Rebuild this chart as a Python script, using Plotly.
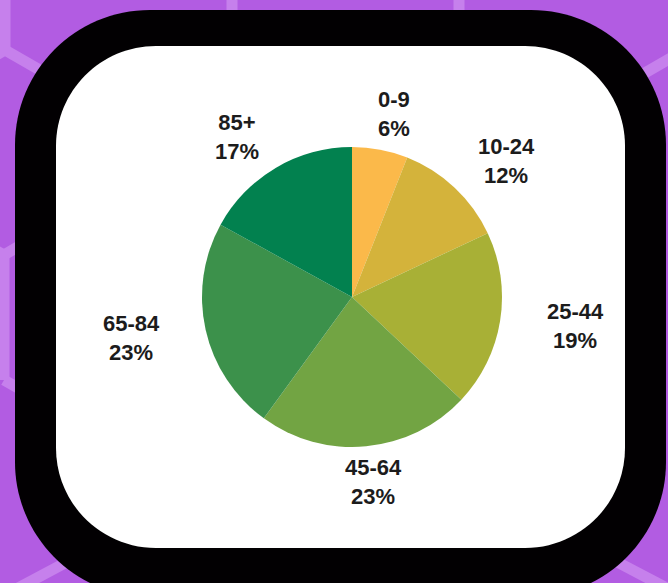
import math
import plotly.graph_objects as go

# ---- data ----
age_groups = ["0-9", "10-24", "25-44", "45-64", "65-84", "85+"]
shares = [6, 12, 19, 23, 23, 17]
slice_colors = ["#FBB94A", "#D4B33B", "#A8B036", "#72A443", "#3C914B", "#02814F"]

W, H = 668, 583


def px(x):
    return x / W


def py(y):
    return 1 - y / H


def rrect_path(x0, y0, x1, y1, r):
    k = 0.5523 * r
    pts = []
    pts.append(f"M {px(x0 + r)},{py(y0)}")
    pts.append(f"L {px(x1 - r)},{py(y0)}")
    pts.append(f"C {px(x1 - r + k)},{py(y0)} {px(x1)},{py(y0 + r - k)} {px(x1)},{py(y0 + r)}")
    pts.append(f"L {px(x1)},{py(y1 - r)}")
    pts.append(f"C {px(x1)},{py(y1 - r + k)} {px(x1 - r + k)},{py(y1)} {px(x1 - r)},{py(y1)}")
    pts.append(f"L {px(x0 + r)},{py(y1)}")
    pts.append(f"C {px(x0 + r - k)},{py(y1)} {px(x0)},{py(y1 - r + k)} {px(x0)},{py(y1 - r)}")
    pts.append(f"L {px(x0)},{py(y0 + r)}")
    pts.append(f"C {px(x0)},{py(y0 + r - k)} {px(x0 + r - k)},{py(y0)} {px(x0 + r)},{py(y0)}")
    pts.append("Z")
    return " ".join(pts)


shapes = []
# light hexagon-pattern lines on the purple background
hex_segments = [
    ((5, -5), (5, 50)), ((5, 50), (-40, 76)), ((5, 50), (118, 115)),
    ((232, -5), (232, 50)), ((459, -5), (459, 50)),
    ((560, 122), (690, 47)),
    ((4, 255), (4, 380)), ((4, 255), (-40, 230)), ((4, 255), (60, 222)),
    ((4, 380), (60, 412)),
    ((5, 595), (80, 555)),
    ((600, 553), (680, 595)),
]
for (a, b) in hex_segments:
    shapes.append(dict(type="line", xref="paper", yref="paper",
                       x0=px(a[0]), y0=py(a[1]), x1=px(b[0]), y1=py(b[1]),
                       line=dict(color="#C680EC", width=11), layer="below"))

# black frame and white card
shapes.append(dict(type="path", xref="paper", yref="paper",
                   path=rrect_path(15, 10, 666, 597, 135),
                   fillcolor="#020002", line=dict(width=0), layer="below"))
shapes.append(dict(type="path", xref="paper", yref="paper",
                   path=rrect_path(56, 46, 625, 548, 100),
                   fillcolor="#FFFFFF", line=dict(width=0), layer="below"))

# pie geometry (pixels)
cx, cy, r = 352, 297, 150
fig = go.Figure(go.Pie(
    labels=age_groups,
    values=shares,
    sort=False,
    direction="clockwise",
    rotation=0,
    marker=dict(colors=slice_colors, line=dict(width=0)),
    textinfo="none",
    hoverinfo="label+percent",
    showlegend=False,
    domain=dict(x=[px(cx - r), px(cx + r)], y=[py(cy + r), py(cy - r)]),
))

# outside labels placed on an ellipse around the pie, at each slice's mid-angle
total = sum(shares)
Rx, Ry = 226, 186
annotations = []
cum = 0
for lab, v in zip(age_groups, shares):
    th = 2 * math.pi * (cum + v / 2) / total
    cum += v
    lx = cx + Rx * math.sin(th)
    ly = cy - Ry * math.cos(th)
    annotations.append(dict(
        x=px(lx), y=py(ly), xref="paper", yref="paper",
        text=f"{lab}<br>{round(100 * v / total)}%",
        showarrow=False, xanchor="center", yanchor="middle", align="center",
        font=dict(family="Liberation Sans, Arial, sans-serif", size=22,
                  color="#1C1C1C", weight="bold"),
    ))

fig.update_layout(
    width=W, height=H,
    margin=dict(l=0, r=0, t=0, b=0),
    paper_bgcolor="#B25CE2",
    plot_bgcolor="#B25CE2",
    shapes=shapes,
    annotations=annotations,
)

fig.write_html(
    "out.html",
    config={"displayModeBar": False},
    post_script="document.body.style.margin='0';document.body.style.padding='0';document.body.style.overflow='hidden';",
)
